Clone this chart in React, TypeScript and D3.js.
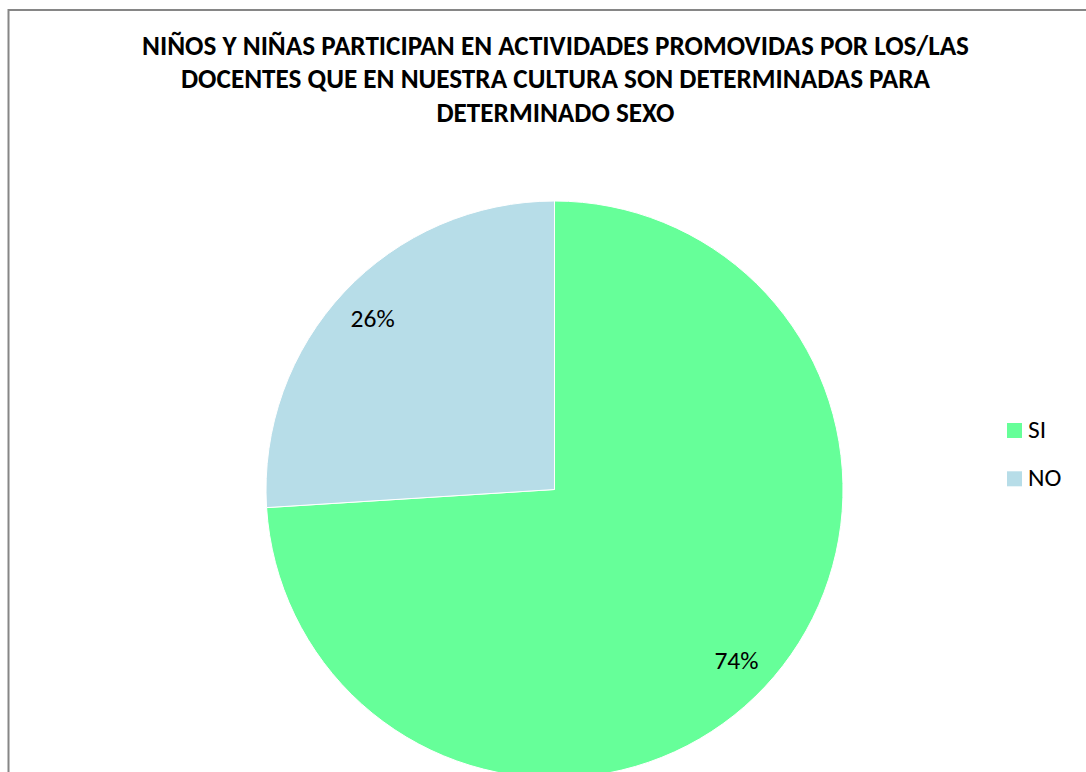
import React from "react";
import * as d3 from "d3";

const categories = ["SI", "NO"];
const values = [74, 26];
const colors = ["#66FF99", "#B7DDE8"];
const titleLines = [
  "NIÑOS Y NIÑAS PARTICIPAN EN ACTIVIDADES PROMOVIDAS POR LOS/LAS",
  "DOCENTES QUE EN NUESTRA CULTURA SON DETERMINADAS PARA",
  "DETERMINADO SEXO",
];

export default function App() {
  const W = 1086, H = 772;
  const cx = 554.5, cy = 489.5, r = 288.5;
  const pie = d3.pie<number>().sort(null).value((d) => d);
  const arcs = pie(values);
  const arc = d3.arc<d3.PieArcDatum<number>>().innerRadius(0).outerRadius(r);
  const labelArc = d3.arc<d3.PieArcDatum<number>>().innerRadius(r * 0.865).outerRadius(r * 0.865);
  const total = d3.sum(values);
  const font = "Carlito, Calibri, Lato, 'Liberation Sans', sans-serif";
  return (
    <div style={{ position: "absolute", left: 0, top: 0 }}>
      <svg width={W} height={H} style={{ display: "block" }} fontFamily={font}>
        <rect x={0} y={0} width={W} height={H} fill="#fff" />
        <rect x={8.5} y={10} width={W + 20} height={H + 20} fill="#fff" stroke="#868686" strokeWidth={2} />
        {titleLines.map((t, i) => (
          <text key={i} x={555.5} y={55 + i * 33.3} textAnchor="middle" fontWeight="bold" fontSize={27.2} fill="#000">
            {t}
          </text>
        ))}
        <g transform={`translate(${cx},${cy})`}>
          {arcs.map((a, i) => (
            <path key={i} d={arc(a) || ""} fill={colors[i]} stroke="#fff" strokeWidth={1} />
          ))}
          {arcs.map((a, i) => {
            const [lx, ly] = labelArc.centroid(a);
            return (
              <text key={"l" + i} x={lx} y={ly} dy="0.33em" textAnchor="middle" fontSize={25.5} fill="#000">
                {Math.round((a.data / total) * 100) + "%"}
              </text>
            );
          })}
        </g>
        {categories.map((c, i) => (
          <g key={c} transform={`translate(1007,${423 + i * 48.3})`}>
            <rect x={0} y={0} width={15} height={15} fill={colors[i]} />
            <text x={21} y={15} fontSize={25.5} fill="#000">{c}</text>
          </g>
        ))}
      </svg>
    </div>
  );
}
